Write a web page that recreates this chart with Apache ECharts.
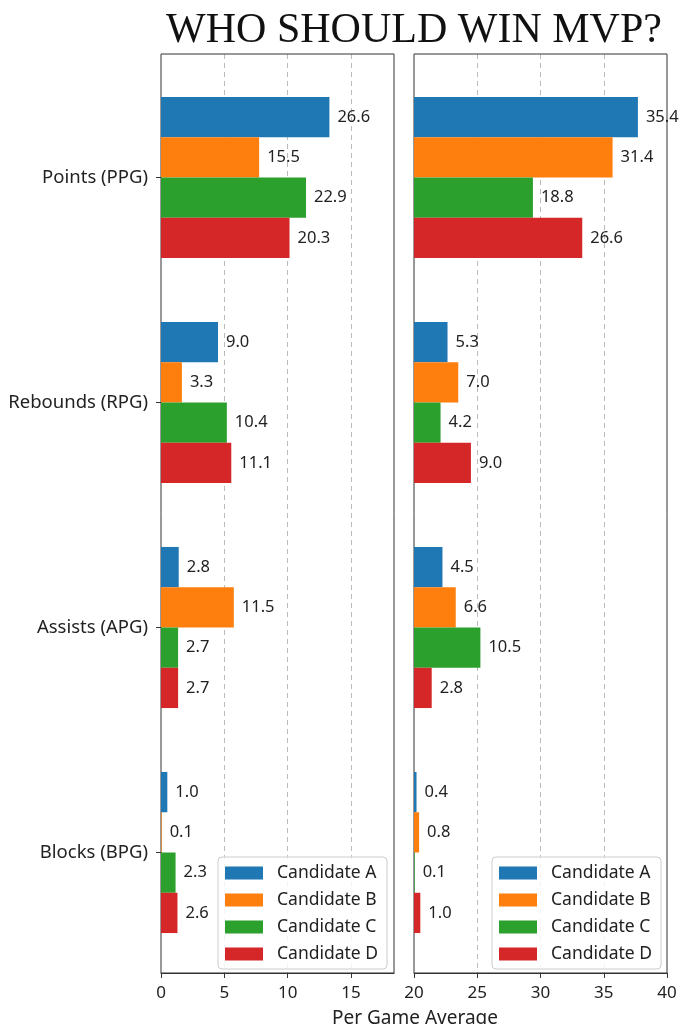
<!DOCTYPE html>
<html>
<head>
<meta charset="utf-8">
<title>Who should win MVP?</title>
<script src="https://cdn.jsdelivr.net/npm/echarts@6/dist/echarts.min.js"></script>
<style>
  html, body { margin: 0; padding: 0; background: #fff; }
  #main { width: 680px; height: 1024px; }
</style>
</head>
<body>
<div id="main"></div>
<script>
// categories and series names
var categories = ['Points (PPG)', 'Rebounds (RPG)', 'Assists (APG)', 'Blocks (BPG)'];
var candidates = ['Candidate A', 'Candidate B', 'Candidate C', 'Candidate D'];

// left panel values (as printed next to the bars)
var leftA = [26.6, 9.0, 2.8, 1.0];
var leftB = [15.5, 3.3, 11.5, 0.1];
var leftC = [22.9, 10.4, 2.7, 2.3];
var leftD = [20.3, 11.1, 2.7, 2.6];

// right panel values
var rightA = [35.4, 5.3, 4.5, 0.4];
var rightB = [31.4, 7.0, 6.6, 0.8];
var rightC = [18.8, 4.2, 10.5, 0.1];
var rightD = [26.6, 9.0, 2.8, 1.0];

// tick labels printed under each panel (one per 10 data units)
var leftTicks = ['0', '5', '10', '15'];
var rightTicks = ['20', '25', '30', '35', '40'];

var colors = ['#1f77b4', '#ff7f0e', '#2ca02c', '#d62728'];
var FONT = '"Noto Sans", sans-serif';

var myChart = echarts.init(document.getElementById('main'));

function barSeries(name, data, idx, color) {
    return {
        name: name,
        type: 'bar',
        xAxisIndex: idx,
        yAxisIndex: idx,
        data: data,
        barGap: '0%',
        barCategoryGap: '28.4%',
        itemStyle: { color: color },
        label: {
            show: true,
            position: 'right',
            distance: 8,
            color: '#222',
            fontSize: 16.5,
            fontFamily: FONT,
            formatter: function (p) { return p.value.toFixed(1); }
        }
    };
}

function frameAxis(idx, max, ticks) {
    var tickValues = ticks.map(function (t, i) { return i * 10; });
    var endsOnTick = max % 10 === 0;
    return {
        type: 'value',
        gridIndex: idx,
        min: 0,
        max: max,
        interval: 10,
        axisLine: { show: true, lineStyle: { color: '#333', width: 1 } },
        axisTick: { show: true, length: 5, lineStyle: { color: '#333' }, customValues: tickValues },
        axisLabel: {
            show: true,
            margin: 12,
            color: '#222',
            fontSize: 17,
            fontFamily: FONT,
            showMinLabel: true,
            showMaxLabel: true,
            customValues: tickValues,
            formatter: function (v) {
                var t = ticks[Math.round(v / 10)];
                return t === undefined ? '' : t;
            }
        },
        splitLine: {
            show: true, showMinLine: false, showMaxLine: !endsOnTick,
            lineStyle: { color: '#bbb', type: [5, 4], width: 1 }
        }
    };
}

function legendAt(left) {
    return {
        orient: 'vertical',
        left: left,
        top: 857,
        data: candidates,
        icon: 'rect',
        itemWidth: 38,
        itemHeight: 13,
        itemGap: 9,
        padding: [7, 9, 6, 7],
        backgroundColor: 'rgba(255,255,255,0.85)',
        borderColor: '#ccc',
        borderWidth: 1,
        borderRadius: 4,
        textStyle: { color: '#222', fontSize: 17.5, fontFamily: FONT, padding: [0, 0, 0, 9] }
    };
}

var option = {
    animation: false,
    backgroundColor: '#fff',
    color: colors,
    graphic: [
        {
            type: 'text',
            x: 414, y: 31,
            style: {
                text: 'WHO SHOULD WIN MVP?',
                font: '42px "Liberation Serif", serif',
                fill: '#111',
                textAlign: 'center',
                textVerticalAlign: 'middle'
            }
        },
        {
            type: 'text',
            x: 415, y: 1019,
            style: {
                text: 'Per Game Average',
                font: '19px ' + FONT,
                fill: '#222',
                textAlign: 'center',
                textVerticalAlign: 'middle'
            }
        }
    ],
    legend: [legendAt(218), legendAt(492)],
    grid: [
        // bar areas
        { left: 161, width: 233, top: 65, height: 900 },
        { left: 414, width: 253, top: 65, height: 900 },
        // frames with the x axes
        { left: 161, width: 233, top: 54, height: 919, show: true, borderColor: '#333', borderWidth: 1, z: 1 },
        { left: 414, width: 253, top: 54, height: 919, show: true, borderColor: '#333', borderWidth: 1, z: 1 }
    ],
    xAxis: [
        { type: 'value', gridIndex: 0, min: 0, max: 36.8, show: false },
        { type: 'value', gridIndex: 1, min: 0, max: 40, show: false },
        frameAxis(2, 36.8, leftTicks),
        frameAxis(3, 40, rightTicks)
    ],
    yAxis: [
        {
            type: 'category', gridIndex: 0, data: categories, inverse: true,
            axisLine: { show: false },
            axisTick: { show: true, alignWithLabel: true, interval: 0, length: 5, lineStyle: { color: '#333' } },
            axisLabel: { show: true, interval: 0, margin: 13, color: '#222', fontSize: 18.5, fontFamily: FONT }
        },
        {
            type: 'category', gridIndex: 1, data: categories, inverse: true,
            axisLine: { show: false }, axisTick: { show: false }, axisLabel: { show: false }
        },
        { type: 'value', gridIndex: 2, show: false },
        { type: 'value', gridIndex: 3, show: false }
    ],
    series: [
        barSeries(candidates[0], leftA, 0, colors[0]),
        barSeries(candidates[1], leftB, 0, colors[1]),
        barSeries(candidates[2], leftC, 0, colors[2]),
        barSeries(candidates[3], leftD, 0, colors[3]),
        barSeries(candidates[0], rightA, 1, colors[0]),
        barSeries(candidates[1], rightB, 1, colors[1]),
        barSeries(candidates[2], rightC, 1, colors[2]),
        barSeries(candidates[3], rightD, 1, colors[3])
    ]
};

myChart.setOption(option, true);
window.onresize = myChart.resize;
</script>
</body>
</html>
